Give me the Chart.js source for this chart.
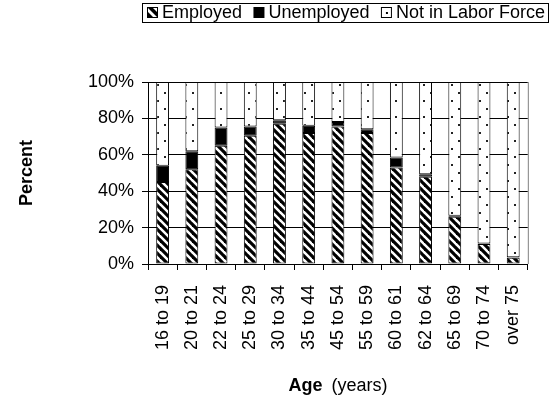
<!DOCTYPE html>
<html>
<head>
<meta charset="utf-8">
<script src="https://cdn.jsdelivr.net/npm/chart.js@4"></script>
<style>
  html, body { margin: 0; padding: 0; background: #fff; }
</style>
</head>
<body>
<canvas id="myChart" width="550" height="405"></canvas>
<script>
// Labels
let ages = ['16 to 19', '20 to 21', '22 to 24', '25 to 29', '30 to 34', '35 to 44', '45 to 54',
            '55 to 59', '60 to 61', '62 to 64', '65 to 69', '70 to 74', 'over 75'];
let yTicks = [0, 20, 40, 60, 80, 100];

// Datas (percent of each age group)
let employed   = [45, 52, 65, 70.5, 77, 72, 75.5, 72, 53,   48,   26,   11,   3.5];
let unemployed = [ 9, 10, 10,  5,    2,  4,  2.5,  2,  5.5,  1.3,  0.5,  0.3, 0.2];
let notInLabor = [46, 38, 25, 24.5, 21, 24, 22,   26, 41.5, 50.7, 73.5, 88.7, 96.3];

let ctx = document.getElementById('myChart').getContext('2d');
const FONT = '"Liberation Sans", Arial, sans-serif';
Chart.defaults.font.family = FONT;
Chart.defaults.color = '#000';

// fill patterns
function stripes() {
    let c = document.createElement('canvas');
    c.width = 8; c.height = 8;
    let g = c.getContext('2d');
    g.fillStyle = '#fff';
    g.fillRect(0, 0, 8, 8);
    g.strokeStyle = '#000';
    g.lineWidth = 3.2;
    [-8, 0, 8].forEach(k => {
        g.beginPath();
        g.moveTo(k - 2, -2);
        g.lineTo(k + 10, 10);
        g.stroke();
    });
    return ctx.createPattern(c, 'repeat');
}

function dots() {
    let c = document.createElement('canvas');
    c.width = 14; c.height = 16;
    let g = c.getContext('2d');
    g.fillStyle = '#fff';
    g.fillRect(0, 0, 14, 16);
    g.fillStyle = '#222';
    g.fillRect(3, 4, 2, 2);
    g.fillRect(10, 12, 2, 2);
    return ctx.createPattern(c, 'repeat');
}

// legend icons
function drawIcon(g, i, x, y) {
    g.save();
    g.lineWidth = 1;
    g.strokeStyle = '#000';
    if (i === 1) {
        g.fillStyle = '#000';
        g.fillRect(x, y, 11, 11);
    } else {
        g.fillStyle = '#fff';
        g.fillRect(x, y, 11, 11);
        g.strokeRect(x + 0.5, y + 0.5, 10, 10);
        g.fillStyle = '#000';
        if (i === 0) {
            g.beginPath();
            g.moveTo(x + 1, y + 1);
            g.lineTo(x + 10, y + 10);
            g.lineTo(x + 10, y + 5);
            g.lineTo(x + 6, y + 1);
            g.closePath();
            g.fill();
            g.beginPath();
            g.moveTo(x + 1, y + 5);
            g.lineTo(x + 6, y + 10);
            g.lineTo(x + 1, y + 10);
            g.closePath();
            g.fill();
        } else {
            g.fillRect(x + 5, y + 5, 2, 2);
        }
    }
    g.restore();
}

const extras = {
    id: 'extras',
    afterDraw(chart) {
        const g = chart.ctx;
        const a = chart.chartArea;
        g.save();
        // right edge of the plot area
        g.strokeStyle = '#808080';
        g.lineWidth = 1;
        g.beginPath();
        g.moveTo(a.right + 0.5, a.top);
        g.lineTo(a.right + 0.5, a.bottom);
        g.stroke();

        // x axis title: bold "Age" + regular "(years)"
        g.fillStyle = '#000';
        g.textBaseline = 'middle';
        g.textAlign = 'left';
        g.font = 'bold 18px ' + FONT;
        const w1 = g.measureText('Age').width;
        g.font = '18px ' + FONT;
        const w2 = g.measureText('(years)').width;
        let x = (a.left + a.right) / 2 - (w1 + 9 + w2) / 2;
        g.font = 'bold 18px ' + FONT;
        g.fillText('Age', x, 386);
        g.font = '18px ' + FONT;
        g.fillText('(years)', x + w1 + 9, 386);

        // legend
        const labels = chart.data.datasets.map(d => d.label);
        const boxL = 142, boxR = 549, boxT = 3, boxB = 22;
        g.fillStyle = '#fff';
        g.fillRect(boxL, boxT, boxR - boxL, boxB - boxT);
        g.strokeStyle = '#000';
        g.strokeRect(boxL + 0.5, boxT + 0.5, boxR - boxL - 1, boxB - boxT);
        g.font = '18px ' + FONT;
        const widths = labels.map(t => g.measureText(t).width);
        const inner = (boxR - 4) - (boxL + 5);
        const gap = (inner - widths.reduce((s, w) => s + w + 15, 0)) / (labels.length - 1);
        let cx = boxL + 5;
        labels.forEach((t, i) => {
            drawIcon(g, i, cx, 7);
            g.fillStyle = '#000';
            g.fillText(t, cx + 15, 13);
            cx += 15 + widths[i] + gap;
        });
        g.restore();
    }
};

let myChart = new Chart(ctx, {
    type: 'bar',
    data: {
        labels: ages,
        datasets: [
            { label: 'Employed', data: employed, backgroundColor: stripes() },
            { label: 'Unemployed', data: unemployed, backgroundColor: '#000' },
            { label: 'Not in Labor Force', data: notInLabor, backgroundColor: dots() }
        ].map(d => Object.assign(d, {
            borderColor: '#000',
            borderWidth: 1,
            borderSkipped: false,
            barPercentage: 0.44,
            categoryPercentage: 1
        }))
    },
    options: {
        responsive: false,
        animation: false,
        devicePixelRatio: 1,
        layout: { padding: { top: 82, right: 5, bottom: 0, left: 0 } },
        plugins: {
            legend: { display: false },
            tooltip: { enabled: false }
        },
        scales: {
            x: {
                stacked: true,
                ticks: { minRotation: 90, maxRotation: 90, autoSkip: false, padding: 15, font: { size: 18 } },
                grid: { drawOnChartArea: false, color: '#000', tickLength: 6 },
                border: { color: '#000' },
                afterFit: s => { s.height = 141; }
            },
            y: {
                stacked: true,
                min: 0,
                max: 100,
                afterBuildTicks: s => { s.ticks = yTicks.map(v => ({ value: v })); },
                ticks: { callback: v => v + '%', padding: 8, font: { size: 18 } },
                grid: { color: '#000', tickLength: 6 },
                border: { color: '#000' },
                title: {
                    display: true,
                    text: 'Percent',
                    font: { size: 18, weight: 'bold' },
                    padding: { top: 16, bottom: 0 }
                },
                afterFit: s => { s.width = 148; }
            }
        }
    },
    plugins: [extras]
});
</script>
</body>
</html>
